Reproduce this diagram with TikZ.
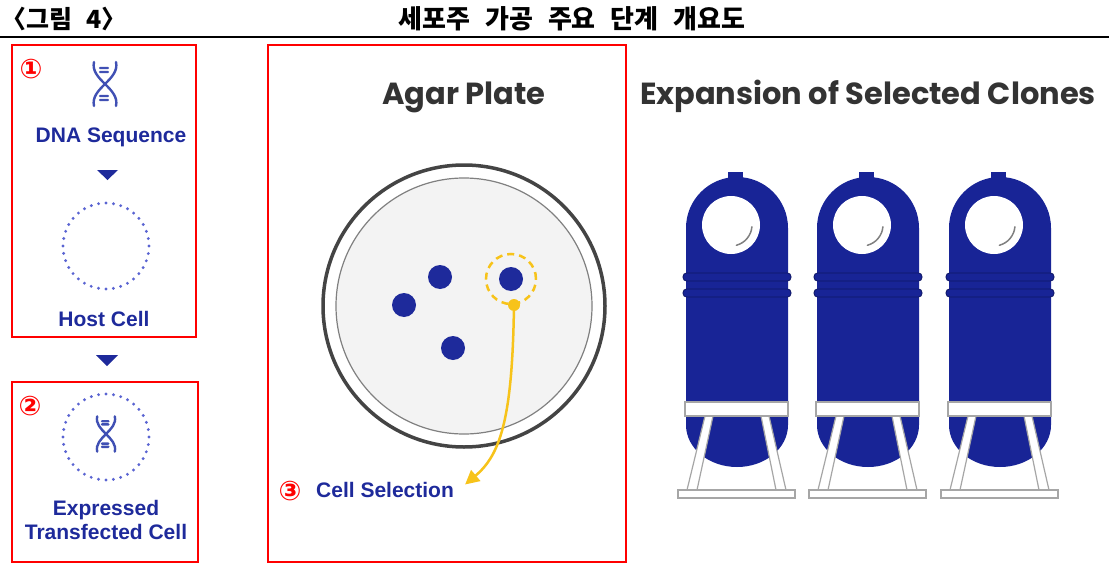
\documentclass[tikz,border=0pt]{standalone}
\usepackage{fontspec}
\setmainfont{Liberation Sans}
\newfontfamily\headfont{Poppins}
\newfontfamily\krfont[WordSpace=2.5]{Noto Sans CJK KR}
\newfontfamily\symfont{DejaVu Sans}
\usetikzlibrary{arrows.meta}

\definecolor{cellblue}{RGB}{30,42,155}
\definecolor{tankblue}{RGB}{24,36,150}
\definecolor{ringdark}{RGB}{14,22,100}
\definecolor{dnablue}{RGB}{64,80,180}
\definecolor{dotblue}{RGB}{90,100,210}
\definecolor{pickyellow}{RGB}{247,195,26}
\definecolor{headgray}{RGB}{51,51,51}
\definecolor{platefill}{RGB}{243,243,243}
\definecolor{platerim}{RGB}{68,68,68}

% double helix icon, centred on the origin
\tikzset{dna icon/.pic={
  \draw[dnablue,line width=2.4pt,line cap=round]
    (-11,-22) .. controls (-15,-4) and (15,4) .. (11,22)
    (11,-22) .. controls (15,-4) and (-15,4) .. (-11,22)
    (-5,-16) -- (3,-16) (-5,-12) -- (3,-12)
    (-5,12) -- (3,12) (-5,16) -- (3,16);
}}

\begin{document}
\begin{tikzpicture}[x=1pt,y=-1pt,
  step box/.style={draw=red,line width=1.5pt},
  blue label/.style={font=\fontsize{21}{24}\selectfont\bfseries,text=cellblue,align=center,inner sep=0pt},
  head label/.style={font=\headfont\fontsize{30.5}{32}\selectfont\bfseries,text=headgray,inner sep=0pt},
  step number/.style={font=\symfont\bfseries\fontsize{27}{27}\selectfont,text=red,inner sep=0pt},
  host cell/.style={circle,minimum size=86pt,inner sep=0pt,draw=dotblue,line width=3.2pt,
    line cap=round,dash pattern=on 0pt off 7.5pt},
  colony/.style={circle,fill=cellblue,minimum size=24pt,inner sep=0pt},
  pick ring/.style={circle,minimum size=50pt,inner sep=0pt,draw=pickyellow,line width=2.5pt,
    dash pattern=on 7pt off 5pt},
  pick dot/.style={circle,fill=pickyellow,minimum size=12pt,inner sep=0pt},
  stand part/.style={fill=white,draw=gray!70,line width=1.2pt}]

  \fill[white] (0,0) rectangle (1109,570);
  \useasboundingbox (0,0) rectangle (1109,570);

  % heading
  \node[font=\krfont\bfseries\fontsize{25}{25}\selectfont,anchor=west,inner sep=0pt] (fig) at (1,19) {〈그림 4〉};
  \node[font=\krfont\bfseries\fontsize{26}{26}\selectfont,inner sep=0pt] (title) at (572,19) {세포주 가공 주요 단계 개요도};
  \draw[line width=1.5pt] (0,37) -- (1109,37);

  % step 1 and 2
  \draw[step box] (12,45) rectangle (196,337);
  \draw[step box] (12,382) rectangle (198,562);
  \node[step number] (n1) at (31,69) {①};
  \node[step number] (n2) at (30,406) {②};

  \pic at (105,84) {dna icon};
  \node[blue label,anchor=base] (dna) at (111,142) {DNA Sequence};
  \fill[cellblue] (97,170) -- (118,170) -- (107.5,180) -- cycle;
  \node[host cell] (host) at (106,246) {};
  \node[blue label,anchor=base] (hostlabel) at (104,326) {Host Cell};
  \fill[cellblue] (96,355) -- (118,355) -- (107,366) -- cycle;
  \node[host cell] (trans) at (106,437) {};
  \pic[scale=0.8] at (106,434) {dna icon};
  \node[blue label] (translabel) at (106,520) {Expressed\\Transfected Cell};

  % step 3: agar plate
  \draw[step box] (268,45) rectangle (626,562);
  \node[head label,anchor=base] (agar) at (464,104) {Agar Plate};
  \node[circle,minimum size=282pt,inner sep=0pt,draw=platerim,line width=3.5pt] (plate) at (464,306) {};
  \node[circle,minimum size=256pt,inner sep=0pt,fill=platefill,draw=gray,line width=1.2pt] (medium) at (464,306) {};
  \node[colony] (c1) at (440,277) {};
  \node[colony] (c2) at (404,305) {};
  \node[colony] (c3) at (453,348) {};
  \node[colony] (pick) at (511,279) {};
  \node[pick ring] (ring) at (pick) {};
  \node[pick dot] (pickdot) at (514,305) {};
  \node[step number] (n3) at (290,491) {③};
  \node[blue label,anchor=base west] (selection) at (316,497) {Cell Selection};
  \draw[pickyellow,line width=2.5pt,-{Triangle[length=14pt,width=14pt]}]
    (pickdot) .. controls (512,420) and (500,455) .. ([xshift=11pt,yshift=5pt]selection.east);

  % bioreactors
  \node[head label,anchor=base] (expand) at (868,104) {Expansion of Selected Clones};
  \foreach \tx in {737,868,1000}{
    \begin{scope}[shift={(\tx,0)}]
      \fill[tankblue] (-9,172) rectangle (6,179);
      \fill[tankblue] (-51,228) arc[start angle=180,end angle=360,radius=51]
        -- (51,425) arc[start angle=0,end angle=180,x radius=51,y radius=42] -- cycle;
      \fill[white] (-6,225) circle (29);
      \draw[gray,line width=1.5pt,line cap=round] (14.9,226.8) arc[start angle=5,end angle=75,radius=21];
      \filldraw[fill=tankblue,draw=ringdark,line width=0.8pt,rounded corners=3.5pt] (-54,273) rectangle (54,281);
      \filldraw[fill=tankblue,draw=ringdark,line width=0.8pt,rounded corners=3.5pt] (-54,289) rectangle (54,297);
      \filldraw[stand part] (-32,416) -- (-24,416) -- (-40,490) -- (-50,490) -- cycle;
      \filldraw[stand part] (24,416) -- (32,416) -- (49,490) -- (39,490) -- cycle;
      \filldraw[stand part] (-52,402) rectangle (51,416);
      \filldraw[stand part] (-59,490) rectangle (58,498);
    \end{scope}
  }
\end{tikzpicture}
\end{document}
